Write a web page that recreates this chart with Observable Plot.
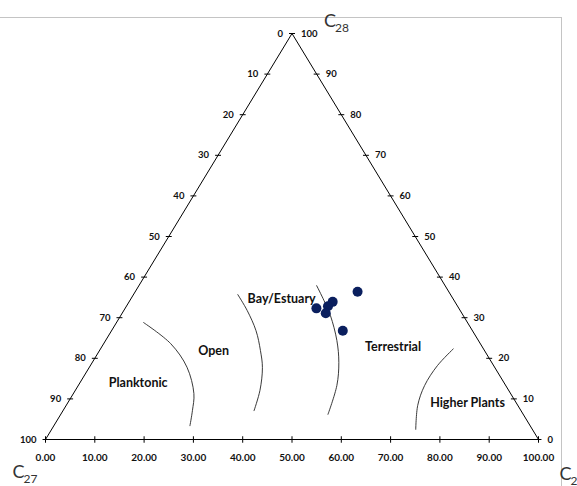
<!DOCTYPE html>
<html>
<head>
<meta charset="utf-8">
<script src="https://cdn.jsdelivr.net/npm/d3@7"></script>
<script src="https://cdn.jsdelivr.net/npm/@observablehq/plot@0.6"></script>
<style>
  html, body { margin: 0; padding: 0; background: white; }
  #wrap { position: relative; width: 577px; height: 486px; overflow: hidden; }
  #frame { position: absolute; left: -1px; top: 17px; width: 562px; height: 480px;
           border-top: 1px solid #c4c4c4; border-right: 1px solid #c4c4c4; pointer-events: none; }
  #wrap svg { position: absolute; left: 0; top: 0; }
</style>
</head>
<body>
<div id="wrap"><div id="frame"></div></div>
<script>
// ---- Data (percentages of C27 / C28 / C29 steranes) ----
const c27 = [18.5, 24.8, 26.3, 28.9, 27.6, 26.3];
const c28 = [36.4, 33.9, 32.8, 32.3, 31.1, 26.8];
const c29 = [45.1, 41.3, 40.9, 38.8, 41.3, 46.9];

// axis tick values
const bottomTicks = [0, 10, 20, 30, 40, 50, 60, 70, 80, 90, 100];
const bottomTickLabels = ["0.00", "10.00", "20.00", "30.00", "40.00", "50.00", "60.00", "70.00", "80.00", "90.00", "100.00"];
const sideTicks = [0, 10, 20, 30, 40, 50, 60, 70, 80, 90, 100];

// region boundary curves (bottom-axis x, C28 height)
const arc1x = [19.9, 25.4, 28.7, 30.1, 29.8, 29.3];
const arc1y = [28.8, 23.6, 17.8, 11.3, 7.1, 3.4];
const arc2x = [39.0, 40.9, 42.7, 43.6, 44.0, 43.5, 42.3];
const arc2y = [35.7, 31.8, 26.8, 21.9, 17.7, 12.1, 7.1];
const arc3x = [55.0, 56.5, 57.8, 59.1, 59.5, 59.1, 57.3];
const arc3y = [37.9, 34.2, 30.5, 24.4, 19.0, 13.3, 6.2];
const arc4x = [82.7, 79.5, 76.9, 75.5, 75.1];
const arc4y = [22.3, 18.2, 13.3, 8.4, 2.5];

// region labels
const regionNames = ["Planktonic", "Open", "Bay/Estuary", "Terrestrial", "Higher Plants"];
const regionX = [18.8, 34.1, 47.9, 70.5, 85.6];
const regionY = [13.8, 21.7, 34.7, 22.9, 9.1];

// corner titles
const titleMain = ["C", "C", "C"];
const titleSub = ["27", "28", "29"];

// ---- ternary transform ----
const tern = (a27, a28, a29) => ({x: a29 + a28 / 2, y: a28});

const points = c27.map((v, i) => tern(v, c28[i], c29[i]));
const corners = [tern(100, 0, 0), tern(0, 0, 100), tern(0, 100, 0), tern(100, 0, 0)];
const arcs = [[arc1x, arc1y], [arc2x, arc2y], [arc3x, arc3y], [arc4x, arc4y]]
  .flatMap(([xs, ys], k) => xs.map((x, i) => ({x, y: ys[i], k})));
const leftTicks = sideTicks.map(k => ({...tern(k, 100 - k, 0), label: String(k)}));
const rightTicks = sideTicks.map(k => ({...tern(0, k, 100 - k), label: String(k)}));
const bottom = bottomTicks.map((k, i) => ({...tern(100 - k, 0, k), label: bottomTickLabels[i]}));
const regions = regionNames.map((n, i) => ({name: n, x: regionX[i], y: regionY[i]}));

const font = "Lato, 'Open Sans', sans-serif";
const T27 = [corners[0]], T29 = [corners[1]], T28 = [corners[2]];
const titleStyle = {x: "x", y: "y", textAnchor: "start", fill: "#333"};
const mainOpts = {...titleStyle, fontSize: 18};
const subOpts = {...titleStyle, fontSize: 12};

const chart = Plot.plot({
  width: 577,
  height: 486,
  x: {domain: [0, 100], range: [45, 538], axis: null},
  y: {domain: [0, 100], range: [439, 33], axis: null},
  style: {fontFamily: font, background: "transparent", overflow: "visible"},
  marks: [
    Plot.line(corners, {x: "x", y: "y", stroke: "#000", strokeWidth: 1}),
    Plot.link(bottom, {x1: "x", x2: "x", y1: -0.8, y2: 0.8, stroke: "#000"}),
    Plot.link(leftTicks, {x1: d => d.x - 0.6, x2: d => d.x + 0.6, y1: "y", y2: "y", stroke: "#000"}),
    Plot.link(rightTicks, {x1: d => d.x - 0.6, x2: d => d.x + 0.6, y1: "y", y2: "y", stroke: "#000"}),
    Plot.text(bottom, {x: "x", y: "y", text: "label", dy: 18, fontSize: 10, fontWeight: "bold", fill: "#111"}),
    Plot.text(leftTicks, {x: "x", y: "y", text: "label", dx: -9, textAnchor: "end", fontSize: 9.5, fontWeight: "bold", fill: "#111"}),
    Plot.text(rightTicks, {x: "x", y: "y", text: "label", dx: 9, textAnchor: "start", fontSize: 9.5, fontWeight: "bold", fill: "#111"}),
    Plot.line(arcs, {x: "x", y: "y", z: "k", curve: "catmull-rom", stroke: "#222", strokeWidth: 0.9}),
    Plot.text(regions, {x: "x", y: "y", text: "name", fontSize: 12.5, fontWeight: "bold", fill: "#111"}),
    Plot.dot(points, {x: "x", y: "y", r: 5, fill: "#0a1f5e", stroke: "none"}),
    // corner titles: C with subscript
    Plot.text(T27, {...mainOpts, text: () => titleMain[0], dx: -33, dy: 33}),
    Plot.text(T27, {...subOpts, text: () => titleSub[0], dx: -22, dy: 40}),
    Plot.text(T28, {...mainOpts, text: () => titleMain[1], dx: 32, dy: -12}),
    Plot.text(T28, {...subOpts, text: () => titleSub[1], dx: 43, dy: -5}),
    Plot.text(T29, {...mainOpts, text: () => titleMain[2], dx: 21, dy: 35}),
    Plot.text(T29, {...subOpts, text: () => titleSub[2], dx: 32, dy: 42})
  ]
});
document.getElementById("wrap").appendChild(chart);
</script>
</body>
</html>
